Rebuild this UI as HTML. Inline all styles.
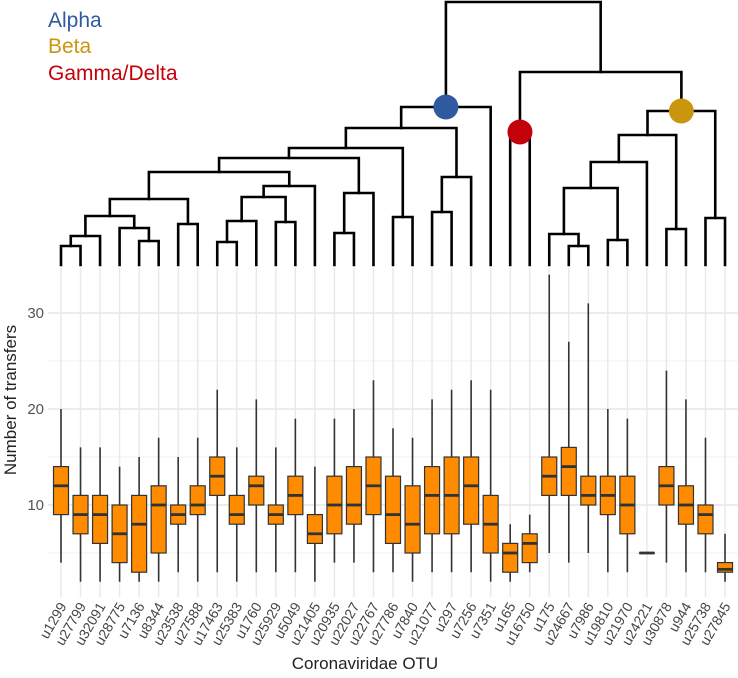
<!DOCTYPE html>
<html><head><meta charset="utf-8"><style>
html,body{margin:0;padding:0;background:#fff;}
svg{display:block;font-family:"Liberation Sans",Arial,sans-serif;}
</style></head><body>
<svg id="chart" width="738" height="678" viewBox="0 0 738 678" xmlns="http://www.w3.org/2000/svg">
<g id="grid"></g>
<g id="tree"></g>
<g id="boxes"></g>
<g id="axes"></g>
<text x="48" y="27" font-size="21" fill="#2F5AA0">Alpha</text>
<text x="48" y="53" font-size="21" fill="#C9960E">Beta</text>
<text x="48" y="80" font-size="21" fill="#C4000A">Gamma/Delta</text>
<text transform="translate(16,400) rotate(-90)" text-anchor="middle" font-size="17" fill="#222">Number of transfers</text>
<text x="365" y="669" text-anchor="middle" font-size="17" fill="#222">Coronaviridae OTU</text>
</svg>
<script>
const categories = ["u1299","u27799","u32091","u28775","u7136","u8344","u23538","u27588","u17463","u25383","u1760","u25929","u5049","u21405","u20935","u22027","u22767","u27786","u7840","u21077","u297","u7256","u7351","u165","u16750","u175","u24667","u7986","u19810","u21970","u24221","u30878","u944","u25738","u27845"];
const whiskerLow = [4,2,2,2,2,2,3,2,3,2,3,3,3,2,4,4,3,3,2,3,3,3,2,2,3,5,4,5,3,3,5,4,3,3,2];
const q1 = [9,7,6,4,3,5,8,9,11,8,10,8,9,6,7,8,9,6,5,7,7,8,5,3,4,11,11,10,9,7,5,10,8,7,3];
const medians = [12,9,9,7,8,10,9,10,13,9,12,9,11,7,10,10,12,9,8,11,11,12,8,5,6,13,14,11,11,10,5,12,10,9,3.3];
const q3 = [14,11,11,10,11,12,10,12,15,11,13,10,13,9,13,14,15,13,12,14,15,15,11,6,7,15,16,13,13,13,5,14,12,10,4];
const whiskerHigh = [20,16,16,14,15,17,15,17,22,16,21,16,19,14,19,20,23,18,17,21,22,23,22,8,9,34,27,31,20,19,5,24,21,17,7];
const yTicks = [10,20,30];
const yMinor = [5,15,25];
// tree: [left child, right child, height(px)] ; children are leaf indices or node refs
const treeNodes = {
 n0:[0,1,246], n1:["n0",2,236], n2:[4,5,241], n3:[3,"n2",228], n4:["n1","n3",216], n5:[6,7,224], n6:["n4","n5",199],
 n7:[8,9,242], n8:["n7",10,221], n9:[11,12,222], n10:["n8","n9",197], n11:["n10",13,186], n12:["n6","n11",172],
 n13:[14,15,233], n14:["n13",16,193], n15:["n12","n14",158], n16:[17,18,217], n17:["n15","n16",148],
 n18:[19,20,212], n19:["n18",21,177], n20:["n17","n19",128], alpha:["n20",22,107],
 gamma:[23,24,132], n21:[26,27,246], n22:[25,"n21",234], n23:[28,29,240], n24:["n22","n23",188], n25:["n24",30,162],
 n26:[31,32,229], n27:["n25","n26",135], n28:[33,34,218], beta:["n27","n28",111],
 n29:["gamma","beta",72], root:["alpha","n29",2]
};
const NS="http://www.w3.org/2000/svg";
const x0=61, dx=19.53, yBase=505, yScale=9.6, leafY=265;
const xs=i=>x0+i*dx;
const ys=v=>yBase-(v-10)*yScale;
function mk(tag,attrs,parent){const e=document.createElementNS(NS,tag);for(const k in attrs)e.setAttribute(k,attrs[k]);parent.appendChild(e);return e;}
const grid=document.getElementById('grid'),tree=document.getElementById('tree'),boxes=document.getElementById('boxes'),axes=document.getElementById('axes');
yMinor.forEach(v=>{const l=mk('line',{x1:48,x2:738,y1:ys(v),y2:ys(v),stroke:'#f0f0f0','stroke-width':1},grid);

});
yTicks.forEach(v=>{const l=mk('line',{x1:48,x2:738,y1:ys(v),y2:ys(v),stroke:'#e6e6e6','stroke-width':1.4},grid);


const t=mk('text',{x:44,y:ys(v)+5,'text-anchor':'end','font-size':15,fill:'#555'},axes);t.textContent=v;

});
categories.forEach((c,i)=>{const l=mk('line',{x1:xs(i),x2:xs(i),y1:268,y2:597,stroke:'#e8e8e8','stroke-width':1.4},grid);


const t=mk('text',{transform:`translate(${xs(i)+6},606) rotate(-60)`,'text-anchor':'end','font-size':14,fill:'#444'},axes);t.textContent=c;

});
categories.forEach((c,i)=>{const g=mk('g',{},boxes);


const x=xs(i),w=15;
mk('line',{x1:x,x2:x,y1:ys(whiskerHigh[i]),y2:ys(whiskerLow[i]),stroke:'#333','stroke-width':1.6},g);
mk('rect',{x:x-w/2,y:ys(q3[i]),width:w,height:Math.max(0.1,ys(q1[i])-ys(q3[i])),fill:'#FF8C00',stroke:'#333','stroke-width':1.2},g);
mk('line',{x1:x-w/2,x2:x+w/2,y1:ys(medians[i]),y2:ys(medians[i]),stroke:'#333','stroke-width':2.8},g);});
const pos={};
function layout(n){if(typeof n==='number')return {x:xs(n),y:leafY};
 if(pos[n])return pos[n];const [a,b,h]=treeNodes[n];const pa=layout(a),pb=layout(b);
 pos[n]={x:(pa.x+pb.x)/2,y:h,ax:pa,bx:pb};return pos[n];}
Object.keys(treeNodes).forEach(n=>{const p=layout(n);const pa=p.ax,pb=p.bx;
 const d=`M${pa.x},${pa.y}V${p.y}H${pb.x}V${pb.y}`;
 const e=mk('path',{d:d,fill:'none',stroke:'#000','stroke-width':2.6,'stroke-linecap':'square','stroke-linejoin':'miter'},tree);
 
 });
[['alpha','#2F5AA0'],['gamma','#C4000A'],['beta','#C9960E']].forEach(([n,col])=>{const p=pos[n];
 const c=mk('circle',{cx:p.x,cy:p.y,r:12.5,fill:col},tree);
 
 });
</script>
</body></html>
